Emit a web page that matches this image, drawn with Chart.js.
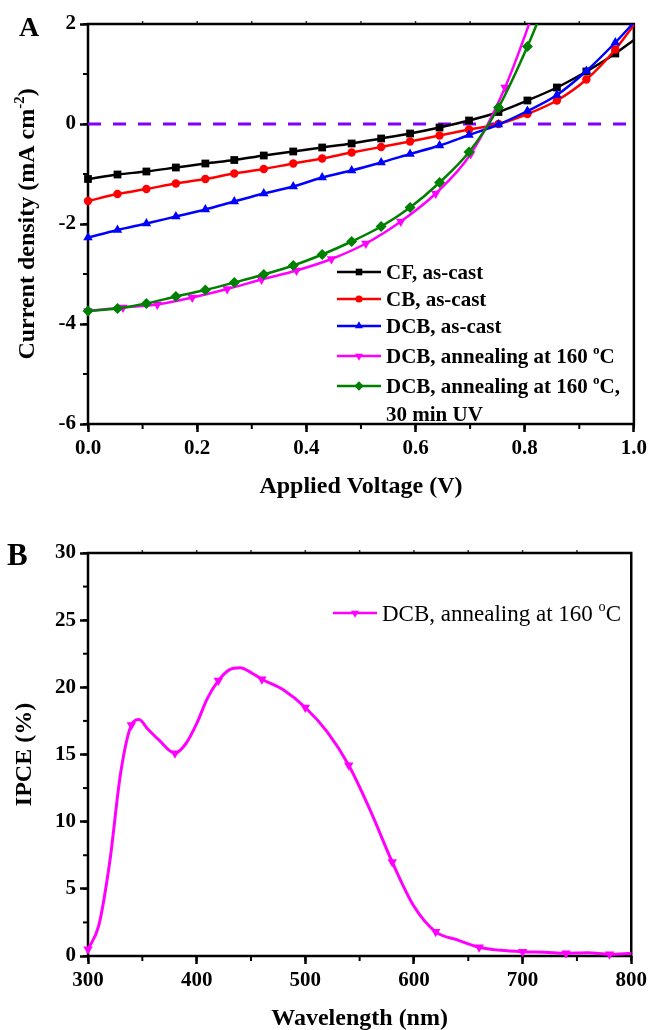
<!DOCTYPE html>
<html>
<head>
<meta charset="utf-8">
<script src="https://cdn.jsdelivr.net/npm/chart.js@4.4.1/dist/chart.umd.min.js"></script>
<style>
  body { margin: 0; background: #fff; }
  .box { position: absolute; left: 0; width: 651px; }
  #boxA { top: 0; height: 500px; }
  #boxB { top: 500px; height: 530px; }
</style>
</head>
<body>
<div class="box" id="boxA"><canvas id="chartA"></canvas></div>
<div class="box" id="boxB"><canvas id="chartB"></canvas></div>
<script>
// ---- panel A : J-V curves ----
const voltage = [0, 0.054, 0.107, 0.161, 0.215, 0.268, 0.322, 0.376, 0.429, 0.483, 0.537, 0.590, 0.644, 0.698, 0.752, 0.805, 0.859, 0.913, 0.966, 1.0];
const jCF  = [-1.10, -1.01, -0.95, -0.87, -0.79, -0.72, -0.63, -0.55, -0.47, -0.39, -0.29, -0.19, -0.07, 0.07, 0.24, 0.47, 0.73, 1.05, 1.41, 1.68];
const jCB  = [-1.54, -1.40, -1.30, -1.19, -1.10, -0.99, -0.90, -0.79, -0.69, -0.57, -0.46, -0.35, -0.23, -0.11, 0.00, 0.20, 0.47, 0.89, 1.49, 1.98];
const jDCB = [-2.27, -2.12, -1.99, -1.85, -1.71, -1.55, -1.39, -1.25, -1.07, -0.93, -0.77, -0.60, -0.43, -0.22, -0.01, 0.26, 0.58, 1.06, 1.63, 2.03];
const jUV  = [-3.74, -3.69, -3.59, -3.45, -3.32, -3.17, -3.01, -2.83, -2.61, -2.35, -2.05, -1.67, -1.17, -0.56, 0.33, 1.55, 3.00];
const vAnneal = [0, 0.064, 0.127, 0.191, 0.255, 0.318, 0.382, 0.446, 0.509, 0.573, 0.637, 0.701, 0.764, 0.828];
const jAnneal = [-3.74, -3.67, -3.61, -3.47, -3.30, -3.11, -2.93, -2.70, -2.39, -1.95, -1.39, -0.60, 0.73, 2.60];
const zeroV = [0, 1];
const zeroJ = [0, 0];
const namesA = ['CF, as-cast', 'CB, as-cast', 'DCB, as-cast', 'DCB, annealing at 160 ^{o}C', 'DCB, annealing at 160 ^{o}C,\n30 min UV'];

// ---- panel B : IPCE ----
const wavelength = [300, 310, 320, 330, 340, 347, 355, 365, 380, 390, 400, 410, 420, 430, 440, 450, 460, 480, 500, 520, 540, 560, 580, 600, 620, 640, 660, 680, 700, 720, 740, 760, 780, 800];
const ipce = [0.5, 2.3, 7.0, 13.6, 17.2, 17.6, 16.9, 16.1, 15.1, 15.8, 17.3, 19.2, 20.5, 21.3, 21.45, 21.1, 20.6, 19.8, 18.5, 16.7, 14.2, 10.8, 7.0, 3.7, 1.8, 1.2, 0.65, 0.42, 0.32, 0.28, 0.2, 0.24, 0.13, 0.2];
const nameB = 'DCB, annealing at 160 ^{o}C';

const FONT = "'Liberation Serif', 'Times New Roman', serif";

function pts(xs, ys) {
  return ys.map((y, i) => ({ x: xs[i], y: y }));
}

// "^{..}" marks a superscript
function splitRich(str) {
  const out = [];
  str.split(/(\^\{[^}]*\})/).forEach(s => {
    if (!s) return;
    if (s.startsWith('^{')) out.push({ t: s.slice(2, -1), sup: true });
    else out.push({ t: s, sup: false });
  });
  return out;
}

function drawRich(ctx, str, x, y, size, weight, align) {
  const list = splitRich(str);
  let w = 0;
  list.forEach(p => {
    ctx.font = weight + ' ' + (p.sup ? size * 0.62 : size) + 'px ' + FONT;
    p.w = ctx.measureText(p.t).width;
    w += p.w;
  });
  let cx = align === 'center' ? x - w / 2 : x;
  ctx.textAlign = 'left';
  ctx.textBaseline = 'alphabetic';
  list.forEach(p => {
    ctx.font = weight + ' ' + (p.sup ? size * 0.62 : size) + 'px ' + FONT;
    ctx.fillText(p.t, cx, p.sup ? y - size * 0.42 : y);
    cx += p.w;
  });
}

const decor = {
  id: 'decor',
  beforeDatasetsDraw(chart) {
    const o = chart.options.plugins.decor;
    const { ctx, chartArea: a } = chart;
    const xs = chart.scales.x, ys = chart.scales.y;
    ctx.save();
    ctx.strokeStyle = '#000';
    ctx.lineWidth = 2;
    for (let v = xs.min; v <= xs.max + 1e-9; v += o.xMinor) {
      const px = xs.getPixelForValue(v);
      ctx.beginPath(); ctx.moveTo(px, a.bottom); ctx.lineTo(px, a.bottom + 5); ctx.stroke();
    }
    ctx.lineWidth = 1.5;
    ctx.strokeStyle = '#333';
    for (let v = xs.min + o.xMinor; v < xs.max - 1e-9; v += o.xMinor) {
      const px = xs.getPixelForValue(v);
      ctx.beginPath(); ctx.moveTo(px, a.top); ctx.lineTo(px, a.top - 3); ctx.stroke();
    }
    ctx.strokeStyle = '#000';
    ctx.lineWidth = 2;
    for (let v = ys.min; v <= ys.max + 1e-9; v += o.yMinor) {
      const py = ys.getPixelForValue(v);
      ctx.beginPath(); ctx.moveTo(a.left, py); ctx.lineTo(a.left - 5, py); ctx.stroke();
    }
    ctx.lineWidth = 2.5;
    ctx.strokeRect(a.left, a.top, a.right - a.left, a.bottom - a.top);
    ctx.restore();
  },
  afterDraw(chart) {
    const o = chart.options.plugins.decor;
    const { ctx, chartArea: a } = chart;
    ctx.save();
    ctx.fillStyle = '#000';
    // panel letter
    ctx.font = 'bold ' + o.letterSize + 'px ' + FONT;
    ctx.textAlign = 'left';
    ctx.textBaseline = 'alphabetic';
    ctx.fillText(o.letter, o.letterX, o.letterY);
    // axis titles
    drawRich(ctx, o.xTitle, (a.left + a.right) / 2, o.xTitleY, o.titleSize, 'bold', 'center');
    ctx.save();
    ctx.translate(o.yTitleX, (a.top + a.bottom) / 2);
    ctx.rotate(-Math.PI / 2);
    drawRich(ctx, o.yTitle, 0, o.titleSize * 0.33, o.titleSize, 'bold', 'center');
    ctx.restore();
    // legend
    let y = o.legendY;
    chart.data.datasets.forEach(ds => {
      if (!ds.label) return;
      if (ds.label.indexOf('^{') >= 0 && y !== o.legendY) y += 3;
      ctx.strokeStyle = ds.borderColor;
      ctx.fillStyle = ds.borderColor;
      ctx.lineWidth = 2.5;
      ctx.setLineDash([]);
      ctx.beginPath(); ctx.moveTo(o.legendX, y); ctx.lineTo(o.legendX + 44, y); ctx.stroke();
      Chart.helpers.drawPoint(ctx, {
        pointStyle: ds.pointStyle, radius: ds.legendRadius, rotation: ds.pointRotation || 0, borderWidth: 0
      }, o.legendX + 22, y);
      ctx.fillStyle = '#000';
      ds.label.split('\n').forEach((line, k) => {
        drawRich(ctx, line, o.legendX + 49, y + o.legendSize * 0.33, o.legendSize, o.legendWeight, 'left');
        if (k > 0 || ds.label.indexOf('\n') < 0) return;
        y += 28;
      });
      y += 27;
    });
    ctx.restore();
  }
};

function lineSet(label, xs, ys, color, style, r, rot, lastMarker) {
  return {
    label: label,
    data: pts(xs, ys),
    borderColor: color,
    backgroundColor: color,
    borderWidth: 2.5,
    pointStyle: style,
    pointRotation: rot,
    pointBackgroundColor: color,
    pointBorderColor: color,
    pointBorderWidth: 0,
    pointRadius: ctx => (lastMarker || ctx.dataIndex < ys.length - 1) ? r : 0,
    legendRadius: r * 0.85,
    cubicInterpolationMode: 'monotone',
    clip: { left: 10, right: 10, top: 0, bottom: 10 }
  };
}

function axisOpts(min, max, step, fmt) {
  return {
    type: 'linear', min: min, max: max,
    border: { display: false },
    grid: { display: true, drawOnChartArea: false, drawTicks: true, tickLength: 8, tickWidth: 2.5, tickColor: '#000' },
    ticks: { stepSize: step, color: '#000', padding: 4, font: { family: FONT, size: 21, weight: 'bold' }, callback: fmt }
  };
}

const chartA = new Chart(document.getElementById('chartA'), {
  type: 'line',
  data: {
    datasets: [
      lineSet(namesA[4], voltage, jUV, '#008000', 'rectRot', 5.5, 0, true),
      lineSet(namesA[3], vAnneal, jAnneal, '#ff00ff', 'triangle', 5.5, 180, true),
      lineSet(namesA[2], voltage, jDCB, '#0000ff', 'triangle', 5.5, 0, false),
      lineSet(namesA[1], voltage, jCB, '#ff0000', 'circle', 4.2, 0, false),
      lineSet(namesA[0], voltage, jCF, '#000000', 'rect', 5.5, 0, false),
      {
        label: '', data: pts(zeroV, zeroJ), borderColor: '#8000ff', borderWidth: 3,
        borderDash: [13, 12], pointRadius: 0, order: 10
      }
    ].map((d, i) => Object.assign({ order: i }, d))
  },
  options: {
    responsive: true, maintainAspectRatio: false, animation: false, events: [],
    layout: { padding: { left: 0, right: 16, top: 24, bottom: 0 } },
    scales: {
      x: Object.assign(axisOpts(0, 1, 0.2, v => v.toFixed(1)), { afterFit: s => { s.height = 76; } }),
      y: Object.assign(axisOpts(-6, 2, 2), { afterFit: s => { s.width = 88; } })
    },
    plugins: {
      legend: { display: false }, tooltip: { enabled: false },
      decor: {
        letter: 'A', letterX: 19, letterY: 36, letterSize: 28,
        xTitle: 'Applied Voltage (V)', xTitleY: 493, yTitle: 'Current density (mA cm^{-2})', yTitleX: 26,
        titleSize: 24, xMinor: 0.1, yMinor: 1,
        legendX: 337, legendY: 272, legendSize: 21, legendWeight: 'bold'
      }
    }
  },
  plugins: [decor]
});

// legend order in panel A runs top to bottom CF .. UV, drawing order is the reverse
chartA.data.datasets.reverse();
chartA.data.datasets.push(chartA.data.datasets.shift());
chartA.update();

const ipceSet = lineSet(nameB, wavelength, ipce, '#ff00ff', 'triangle', 5.5, 180, true);
ipceSet.borderWidth = 3;
ipceSet.pointRadius = ctx => ((wavelength[ctx.dataIndex] - 300) % 40 === 0 ? 5.5 : 0);

new Chart(document.getElementById('chartB'), {
  type: 'line',
  data: { datasets: [ipceSet] },
  options: {
    responsive: true, maintainAspectRatio: false, animation: false, events: [],
    layout: { padding: { left: 0, right: 16, top: 53, bottom: 0 } },
    scales: {
      x: Object.assign(axisOpts(300, 800, 100), { afterFit: s => { s.height = 74; } }),
      y: Object.assign(axisOpts(0, 30, 5), { afterFit: s => { s.width = 88; } })
    },
    plugins: {
      legend: { display: false }, tooltip: { enabled: false },
      decor: {
        letter: 'B', letterX: 7, letterY: 65, letterSize: 31,
        xTitle: 'Wavelength (nm)', xTitleY: 525, yTitle: 'IPCE (%)', yTitleX: 23,
        titleSize: 24, xMinor: 50, yMinor: 2.5,
        legendX: 333, legendY: 113, legendSize: 23, legendWeight: 'normal'
      }
    }
  },
  plugins: [decor]
});
</script>
</body>
</html>
